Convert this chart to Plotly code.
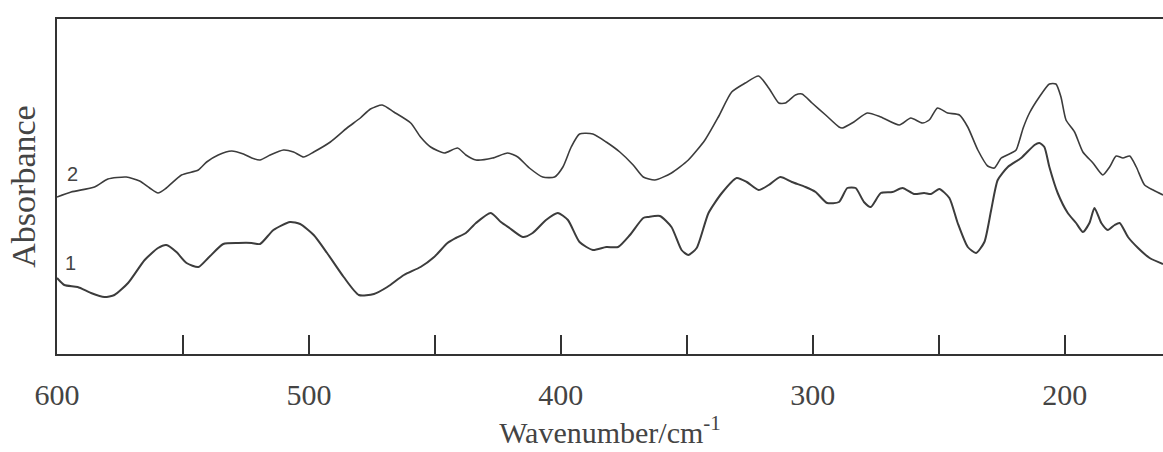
import plotly.graph_objects as go

# Curve 2 (upper spectrum): wavenumber (cm-1) and absorbance (arb. units)
wn2 = [600.0, 594.4, 585.1, 579.8, 572.5, 567.2, 563.2, 559.9, 556.6, 550.6,
       543.9, 540.6, 536.0, 530.7, 526.0, 522.7, 519.4, 515.4, 510.1, 506.1,
       502.1, 498.1, 491.5, 484.9, 479.6, 475.6, 470.9, 466.3, 459.6, 455.7,
       451.7, 446.3, 441.0, 437.7, 433.7, 427.1, 421.1, 417.1, 412.5, 407.2,
       402.5, 399.2, 395.9, 392.6, 387.3, 382.0, 376.6, 371.3, 367.3, 362.7,
       356.1, 349.4, 342.8, 337.5, 332.2, 326.8, 321.5, 317.5, 313.5, 310.9,
       306.9, 304.3, 300.3, 294.9, 289.6, 288.3, 283.7, 278.4, 273.0, 265.7,
       261.1, 256.5, 253.8, 250.5, 246.5, 241.8, 238.5, 234.5, 230.6, 227.9,
       225.2, 221.2, 219.3, 216.5, 214.0, 210.1, 206.1, 203.5, 201.5, 199.5,
       196.1, 192.8, 188.8, 184.9, 182.2, 179.6, 176.9, 174.2, 171.6, 168.3,
       164.9, 161.0]
ab2 = [1.57, 1.62, 1.67, 1.75, 1.77, 1.73, 1.66, 1.61, 1.66, 1.79,
       1.84, 1.92, 1.99, 2.03, 2.00, 1.96, 1.94, 1.99, 2.04, 2.02,
       1.97, 2.02, 2.12, 2.26, 2.36, 2.45, 2.49, 2.42, 2.31, 2.17,
       2.07, 2.01, 2.06, 1.99, 1.94, 1.96, 2.01, 1.97, 1.86, 1.77,
       1.77, 1.87, 2.07, 2.20, 2.20, 2.12, 2.02, 1.89, 1.77, 1.74,
       1.81, 1.94, 2.14, 2.37, 2.62, 2.71, 2.78, 2.66, 2.51, 2.51,
       2.59, 2.60, 2.51, 2.39, 2.27, 2.26, 2.32, 2.41, 2.37, 2.29,
       2.36, 2.31, 2.34, 2.46, 2.41, 2.39, 2.27, 2.04, 1.88, 1.86,
       1.96, 2.01, 2.04, 2.26, 2.41, 2.57, 2.70, 2.70, 2.57, 2.34,
       2.22, 2.02, 1.91, 1.79, 1.87, 1.98, 1.96, 1.98, 1.87, 1.69,
       1.64, 1.59]

# Curve 1 (lower spectrum)
wn1 = [600.0, 597.1, 591.8, 586.5, 581.2, 577.2, 571.8, 565.2, 559.9, 556.6,
       552.6, 548.6, 543.9, 540.0, 534.0, 528.0, 522.7, 519.4, 514.1, 507.5,
       503.5, 498.1, 492.8, 486.2, 480.2, 474.2, 468.9, 462.3, 455.7, 450.3,
       445.0, 441.7, 437.7, 433.7, 427.8, 423.8, 420.4, 415.1, 411.2, 405.9,
       401.2, 397.2, 392.6, 387.3, 382.0, 377.3, 372.6, 367.3, 365.3, 360.7,
       356.1, 352.1, 349.4, 346.1, 341.4, 336.1, 330.2, 326.2, 321.5, 317.5,
       312.9, 308.3, 302.9, 298.9, 294.3, 289.6, 286.3, 283.0, 279.7, 277.0,
       273.0, 268.4, 264.4, 259.8, 255.8, 253.1, 249.8, 245.8, 242.5, 238.5,
       235.2, 231.9, 229.2, 226.6, 222.6, 217.3, 212.0, 210.1, 208.1, 206.1,
       202.8, 198.8, 195.5, 192.8, 190.2, 188.2, 185.5, 182.9, 180.2, 178.2,
       174.9, 170.9, 166.3, 161.0]
ab1 = [0.76, 0.69, 0.67, 0.61, 0.57, 0.59, 0.71, 0.94, 1.06, 1.09,
       1.02, 0.91, 0.87, 0.96, 1.10, 1.11, 1.11, 1.10, 1.24, 1.32,
       1.30, 1.19, 1.01, 0.77, 0.59, 0.60, 0.67, 0.79, 0.87, 0.97,
       1.11, 1.16, 1.21, 1.31, 1.41, 1.32, 1.26, 1.17, 1.21, 1.34,
       1.41, 1.34, 1.12, 1.04, 1.07, 1.07, 1.19, 1.36, 1.37, 1.38,
       1.27, 1.04, 0.99, 1.06, 1.41, 1.61, 1.76, 1.72, 1.64, 1.69,
       1.77, 1.72, 1.67, 1.62, 1.51, 1.52, 1.66, 1.66, 1.52, 1.47,
       1.61, 1.62, 1.66, 1.60, 1.61, 1.60, 1.65, 1.56, 1.31, 1.07,
       1.01, 1.12, 1.44, 1.74, 1.87, 1.96, 2.09, 2.11, 2.07, 1.87,
       1.61, 1.41, 1.31, 1.22, 1.31, 1.46, 1.31, 1.24, 1.29, 1.31,
       1.17, 1.06, 0.96, 0.90]

major_ticks = [600, 500, 400, 300, 200]
minor_ticks = [550, 450, 350, 250]

curve_labels = ["2", "1"]
label_x = [594.0, 594.5]
label_y = [1.80, 0.91]

line_col = "#3c3c3c"
serif = "Liberation Serif, Times New Roman, serif"

fig = go.Figure()
fig.add_trace(go.Scatter(x=wn2, y=ab2, mode="lines", name="2",
                         line=dict(color=line_col, width=1.6, shape="spline", smoothing=0.6)))
fig.add_trace(go.Scatter(x=wn1, y=ab1, mode="lines", name="1",
                         line=dict(color=line_col, width=2.0, shape="spline", smoothing=0.6)))

for t, xx, yy in zip(curve_labels, label_x, label_y):
    fig.add_annotation(x=xx, y=yy, text=t, showarrow=False,
                       font=dict(family="Liberation Sans, Arial, sans-serif", size=20, color="#444"),
                       xanchor="center", yanchor="middle")

fig.update_layout(
    width=1163, height=452,
    margin=dict(l=57, r=0, t=19, b=98),
    paper_bgcolor="white", plot_bgcolor="white",
    showlegend=False,
    xaxis=dict(
        range=[600, 161], autorange=False,
        tickmode="array", tickvals=major_ticks,
        ticks="inside", ticklen=19, tickwidth=1.5, tickcolor="#333",
        minor=dict(tickmode="array", tickvals=minor_ticks, ticks="inside",
                   ticklen=19, tickwidth=1.5, tickcolor="#333", showgrid=False),
        showline=True, linecolor="#333", linewidth=2, mirror=True,
        showgrid=False, zeroline=False,
        tickfont=dict(family=serif, size=30, color="#444"),
        ticklabelstandoff=13,
        title=dict(text="Wavenumber/cm<sup>-1</sup>",
                   font=dict(family=serif, size=30, color="#444"), standoff=8),
    ),
    yaxis=dict(
        range=[0, 3.35], autorange=False,
        showticklabels=False, ticks="",
        showline=True, linecolor="#333", linewidth=2, mirror=False,
        showgrid=False, zeroline=False,
        title=dict(text="Absorbance", font=dict(family=serif, size=34, color="#444"), standoff=9),
    ),
)

fig.write_html("out.html", config={"displayModeBar": False},
               post_script="document.body.style.margin='0';document.body.style.overflow='hidden';")
